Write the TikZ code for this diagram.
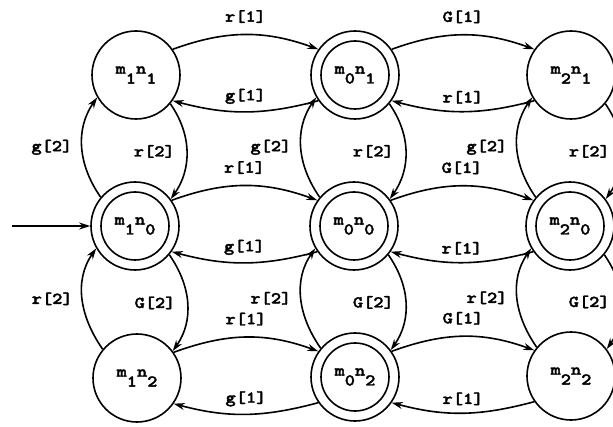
\documentclass[tikz,border=0pt]{standalone}
\usepackage{fontspec}
\usetikzlibrary{arrows.meta}

\newfontfamily\lblfont{lmmonolt10-bold.otf}[FakeBold=2, FakeStretch=1.18]
\newcommand{\lbl}{\lblfont\fontsize{16.5}{19}\selectfont}
\newcommand{\mn}[2]{m\lower0.6em\hbox{#1}n\lower0.6em\hbox{#2}}

\tikzset{
  state/.style={draw, circle, line width=1.6pt, minimum size=88pt, inner sep=0pt, font=\lbl},
  trans/.style={-{Stealth[length=11pt,width=7pt]}, line width=1.6pt},
  lab/.style={font=\lbl, inner sep=0pt}
}

\begin{document}
\begin{tikzpicture}[x=1pt, y=1pt]
  \useasboundingbox (0,0) rectangle (613,426);
  \clip (0,0) rectangle (613,426);

  % States
  \node[state] (m1n1) at (136,351) {\mn{1}{1}};
  \node[state] (m0n1) at (355,351) {\mn{0}{1}};
  \node[state] (m2n1) at (571,351) {\mn{2}{1}};
  \node[state] (m1n0) at (135,200) {\mn{1}{0}};
  \node[state] (m0n0) at (354,200) {\mn{0}{0}};
  \node[state] (m2n0) at (570,200) {\mn{2}{0}};
  \node[state] (m1n2) at (137,48) {\mn{1}{2}};
  \node[state] (m0n2) at (355,49) {\mn{0}{2}};
  \node[state] (m2n2) at (571,50) {\mn{2}{2}};

  % Accepting states
  \foreach \n in {m0n1, m1n0, m0n0, m2n0, m0n2} {
    \draw[line width=1.6pt] (\n) circle[radius=34pt];
  }

  % Start
  \coordinate (start) at (12,200);
  \draw[trans] (start) -- (m1n0);

  % Horizontal transitions
  \foreach \l/\m/\r in {m1n1/m0n1/m2n1, m1n0/m0n0/m2n0, m1n2/m0n2/m2n2} {
    \draw[trans] (\l.35) to[out=20, in=160] node[lab, above=11pt] {r[1]} (\m.145);
    \draw[trans] (\m.-145) to[out=-165, in=-15] node[lab, above=7pt] {g[1]} (\l.-35);
    \draw[trans] (\m.35) to[out=20, in=160] node[lab, above=11pt] {G[1]} (\r.145);
    \draw[trans] (\r.-145) to[out=-165, in=-15] node[lab, above=7pt] {r[1]} (\m.-35);
  }

  % Vertical transitions
  \foreach \u/\c/\d in {m1n1/m1n0/m1n2, m0n1/m0n0/m0n2, m2n1/m2n0/m2n2} {
    \draw[trans] (\c.140) to[out=125, in=-125] node[lab, left=9pt] {g[2]} (\u.210);
    \draw[trans] (\u.-40) to[out=-55, in=55] node[lab, left=11pt] {r[2]} (\c.37);
    \draw[trans] (\d.140) to[out=125, in=-125] node[lab, left=9pt] {r[2]} (\c.210);
    \draw[trans] (\c.-40) to[out=-55, in=55] node[lab, left=11pt] {G[2]} (\d.37);
  }
\end{tikzpicture}
\end{document}
